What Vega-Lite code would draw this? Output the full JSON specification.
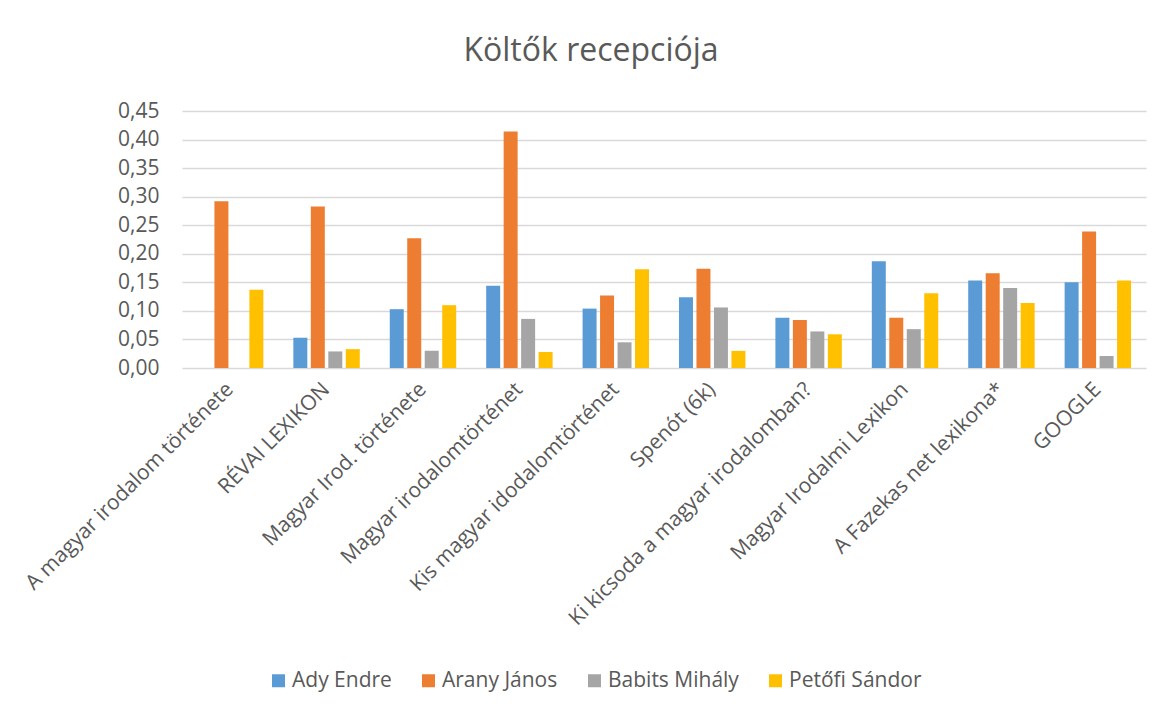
{
  "$schema": "https://vega.github.io/schema/vega-lite/v6.json",
  "width": 964,
  "height": 257,
  "autosize": {"type": "none"},
  "padding": {"left": 182, "top": 111, "right": 16, "bottom": 343},
  "background": "white",
  "title": {
    "text": "Költők recepciója",
    "frame": "group",
    "anchor": "middle",
    "dx": -73,
    "offset": 7,
    "baseline": "alphabetic",
    "font": "Open Sans",
    "fontSize": 32,
    "fontWeight": "normal",
    "color": "#595959"
  },
  "data": {
    "values": [
      {"forras": "A magyar irodalom története", "kolto": "Ady Endre", "ertek": 0},
      {"forras": "A magyar irodalom története", "kolto": "Arany János", "ertek": 0.292},
      {"forras": "A magyar irodalom története", "kolto": "Babits Mihály", "ertek": 0},
      {"forras": "A magyar irodalom története", "kolto": "Petőfi Sándor", "ertek": 0.137},
      {"forras": "RÉVAI LEXIKON", "kolto": "Ady Endre", "ertek": 0.053},
      {"forras": "RÉVAI LEXIKON", "kolto": "Arany János", "ertek": 0.283},
      {"forras": "RÉVAI LEXIKON", "kolto": "Babits Mihály", "ertek": 0.029},
      {"forras": "RÉVAI LEXIKON", "kolto": "Petőfi Sándor", "ertek": 0.033},
      {"forras": "Magyar Irod. története", "kolto": "Ady Endre", "ertek": 0.103},
      {"forras": "Magyar Irod. története", "kolto": "Arany János", "ertek": 0.227},
      {"forras": "Magyar Irod. története", "kolto": "Babits Mihály", "ertek": 0.030},
      {"forras": "Magyar Irod. története", "kolto": "Petőfi Sándor", "ertek": 0.110},
      {"forras": "Magyar irodalomtörténet", "kolto": "Ady Endre", "ertek": 0.144},
      {"forras": "Magyar irodalomtörténet", "kolto": "Arany János", "ertek": 0.414},
      {"forras": "Magyar irodalomtörténet", "kolto": "Babits Mihály", "ertek": 0.086},
      {"forras": "Magyar irodalomtörténet", "kolto": "Petőfi Sándor", "ertek": 0.028},
      {"forras": "Kis magyar idodalomtörténet", "kolto": "Ady Endre", "ertek": 0.104},
      {"forras": "Kis magyar idodalomtörténet", "kolto": "Arany János", "ertek": 0.127},
      {"forras": "Kis magyar idodalomtörténet", "kolto": "Babits Mihály", "ertek": 0.045},
      {"forras": "Kis magyar idodalomtörténet", "kolto": "Petőfi Sándor", "ertek": 0.173},
      {"forras": "Spenót (6k)", "kolto": "Ady Endre", "ertek": 0.124},
      {"forras": "Spenót (6k)", "kolto": "Arany János", "ertek": 0.174},
      {"forras": "Spenót (6k)", "kolto": "Babits Mihály", "ertek": 0.106},
      {"forras": "Spenót (6k)", "kolto": "Petőfi Sándor", "ertek": 0.030},
      {"forras": "Ki kicsoda a magyar irodalomban?", "kolto": "Ady Endre", "ertek": 0.088},
      {"forras": "Ki kicsoda a magyar irodalomban?", "kolto": "Arany János", "ertek": 0.084},
      {"forras": "Ki kicsoda a magyar irodalomban?", "kolto": "Babits Mihály", "ertek": 0.064},
      {"forras": "Ki kicsoda a magyar irodalomban?", "kolto": "Petőfi Sándor", "ertek": 0.059},
      {"forras": "Magyar Irodalmi Lexikon", "kolto": "Ady Endre", "ertek": 0.187},
      {"forras": "Magyar Irodalmi Lexikon", "kolto": "Arany János", "ertek": 0.088},
      {"forras": "Magyar Irodalmi Lexikon", "kolto": "Babits Mihály", "ertek": 0.068},
      {"forras": "Magyar Irodalmi Lexikon", "kolto": "Petőfi Sándor", "ertek": 0.131},
      {"forras": "A Fazekas net lexikona*", "kolto": "Ady Endre", "ertek": 0.153},
      {"forras": "A Fazekas net lexikona*", "kolto": "Arany János", "ertek": 0.166},
      {"forras": "A Fazekas net lexikona*", "kolto": "Babits Mihály", "ertek": 0.140},
      {"forras": "A Fazekas net lexikona*", "kolto": "Petőfi Sándor", "ertek": 0.114},
      {"forras": "GOOGLE", "kolto": "Ady Endre", "ertek": 0.150},
      {"forras": "GOOGLE", "kolto": "Arany János", "ertek": 0.239},
      {"forras": "GOOGLE", "kolto": "Babits Mihály", "ertek": 0.021},
      {"forras": "GOOGLE", "kolto": "Petőfi Sándor", "ertek": 0.153}
    ]
  },
  "mark": {"type": "bar"},
  "encoding": {
    "x": {
      "field": "forras",
      "type": "nominal",
      "sort": null,
      "title": null,
      "scale": {"paddingInner": 0.311, "paddingOuter": 0.155},
      "axis": {
        "labelAngle": -45,
        "labelAlign": "right",
        "labelBaseline": "middle",
        "labelFont": "Open Sans",
        "labelFontSize": 21,
        "labelColor": "#595959",
        "labelPadding": 18,
        "labelLimit": 0,
        "domain": false,
        "ticks": false,
        "grid": false
      }
    },
    "xOffset": {
      "field": "kolto",
      "type": "nominal",
      "sort": ["Ady Endre", "Arany János", "Babits Mihály", "Petőfi Sándor"],
      "scale": {"paddingInner": 0.2, "paddingOuter": 0}
    },
    "y": {
      "field": "ertek",
      "type": "quantitative",
      "title": null,
      "scale": {"domain": [0, 0.45], "nice": false},
      "axis": {
        "values": [0, 0.05, 0.1, 0.15, 0.2, 0.25, 0.3, 0.35, 0.4, 0.45],
        "labelExpr": "replace(format(datum.value, '.2f'), '.', ',')",
        "labelFont": "Open Sans",
        "labelFontSize": 21,
        "labelColor": "#595959",
        "labelPadding": 23,
        "domain": false,
        "ticks": false,
        "grid": true,
        "gridColor": "#D9D9D9",
        "gridWidth": 1.4
      }
    },
    "color": {
      "field": "kolto",
      "type": "nominal",
      "title": null,
      "scale": {
        "domain": ["Ady Endre", "Arany János", "Babits Mihály", "Petőfi Sándor"],
        "range": ["#5B9BD5", "#ED7D31", "#A5A5A5", "#FFC000"]
      },
      "legend": {
        "orient": "none",
        "direction": "horizontal",
        "legendX": 86,
        "legendY": 559,
        "symbolType": "square",
        "symbolSize": 169,
        "symbolStrokeWidth": 0,
        "symbolOpacity": 1,
        "labelFont": "Open Sans",
        "labelFontSize": 21,
        "labelColor": "#595959",
        "labelOffset": 3,
        "columnPadding": 26
      }
    }
  },
  "config": {
    "view": {"stroke": null}
  }
}
